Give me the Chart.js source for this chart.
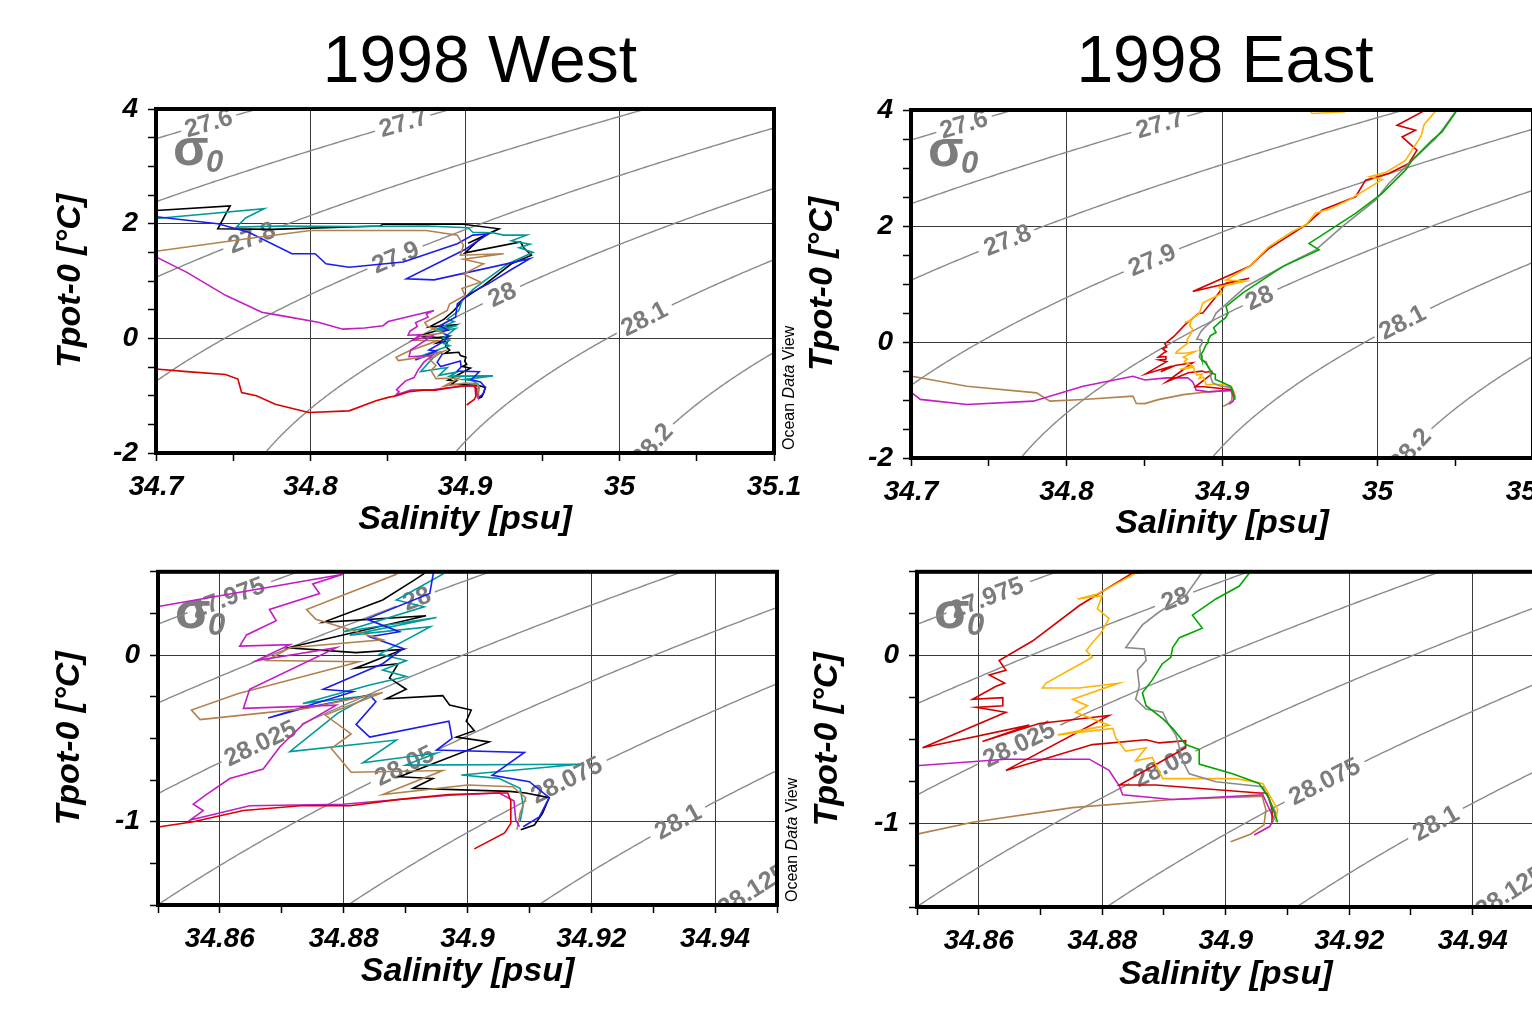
<!DOCTYPE html>
<html><head><meta charset="utf-8">
<script src="https://cdn.jsdelivr.net/npm/chart.js@4.4.1/dist/chart.umd.min.js"></script>
<style>
html,body{margin:0;padding:0;background:#fff;overflow:hidden;width:1532px;height:1035px;position:relative;}
canvas{position:absolute;}
.ttl{position:absolute;font-family:"Liberation Sans",Arial,sans-serif;font-size:66px;line-height:66px;text-align:center;width:600px;color:#000;white-space:nowrap;}
</style></head><body>
<div class="ttl" style="left:180px;top:26px">1998 West</div>
<div class="ttl" style="left:925px;top:26px">1998 East</div>
<canvas id="cTL" width="830" height="545" style="left:0;top:0"></canvas>
<canvas id="cTR" width="830" height="550" style="left:760px;top:0"></canvas>
<canvas id="cBL" width="800" height="490" style="left:0;top:545px"></canvas>
<canvas id="cBR" width="830" height="490" style="left:760px;top:545px"></canvas>
<script>
// ---------------- DATA (salinity [psu], potential temperature [°C]) ----------------
const W_BLACK = [[34.700,2.23],[34.748,2.31],[34.740,1.91],[34.775,1.90],[34.845,1.96],[34.847,1.99],[34.899,1.99],[34.922,1.91],[34.902,1.66],[34.911,1.77],[34.900,1.49],[34.936,1.68],[34.938,1.58],[34.943,1.45],[34.930,1.30],[34.912,0.92],[34.905,0.80],[34.899,0.69],[34.896,0.58],[34.8928,0.485],[34.8912,0.446],[34.8863,0.331],[34.8767,0.197],[34.8933,0.236],[34.8710,0.044],[34.8820,0.015],[34.8896,0.034],[34.8818,-0.080],[34.8888,-0.052],[34.8874,-0.138],[34.8901,-0.205],[34.8869,-0.262],[34.8960,-0.243],[34.8971,-0.300],[34.9006,-0.330],[34.8998,-0.397],[34.9011,-0.454],[34.8982,-0.492],[34.9035,-0.521],[34.8890,-0.730],[34.8944,-0.741],[34.8912,-0.800],[34.9068,-0.818],[34.9094,-0.828],[34.9132,-0.856],[34.9121,-0.952],[34.9108,-1.020],[34.9086,-1.048]];
const W_TEAL = [[34.700,2.09],[34.770,2.26],[34.758,2.10],[34.752,1.94],[34.780,1.96],[34.830,1.95],[34.875,1.96],[34.902,1.93],[34.905,1.85],[34.918,1.84],[34.925,1.80],[34.940,1.80],[34.930,1.70],[34.942,1.64],[34.935,1.58],[34.944,1.50],[34.928,1.30],[34.915,1.05],[34.905,0.85],[34.898,0.65],[34.896,0.485],[34.8885,0.331],[34.893,0.29],[34.8799,0.14],[34.895,0.226],[34.881,0.12],[34.894,0.17],[34.8858,0.006],[34.8901,-0.033],[34.8863,-0.09],[34.8901,-0.128],[34.8842,-0.18],[34.8734,-0.29],[34.8842,-0.243],[34.879,-0.35],[34.8713,-0.579],[34.8885,-0.51],[34.8831,-0.646],[34.895,-0.588],[34.890,-0.66],[34.9181,-0.655],[34.899,-0.72],[34.905,-0.74],[34.9085,-0.80],[34.909,-0.90],[34.9085,-1.00]];
const W_BLUE = [[34.700,2.12],[34.740,2.00],[34.760,1.85],[34.788,1.475],[34.803,1.475],[34.810,1.30],[34.825,1.24],[34.860,1.33],[34.895,1.65],[34.905,1.80],[34.915,1.82],[34.900,1.55],[34.862,1.04],[34.880,1.02],[34.942,1.39],[34.930,1.20],[34.915,0.95],[34.903,0.78],[34.895,0.60],[34.8939,0.37],[34.8837,0.216],[34.889,0.14],[34.8842,0.11],[34.8896,0.04],[34.8863,-0.052],[34.8767,-0.205],[34.8815,-0.22],[34.8678,-0.377],[34.8734,-0.32],[34.8842,-0.24],[34.8852,-0.28],[34.882,-0.416],[34.8842,-0.492],[34.897,-0.397],[34.8975,-0.50],[34.895,-0.57],[34.9092,-0.584],[34.904,-0.722],[34.910,-0.76],[34.9132,-0.856],[34.9116,-0.971],[34.909,-1.03]];
const W_BROWN = [[34.700,1.52],[34.760,1.74],[34.800,1.88],[34.875,1.88],[34.895,1.80],[34.899,1.62],[34.897,1.45],[34.925,1.475],[34.899,1.38],[34.912,1.30],[34.899,1.12],[34.910,0.98],[34.898,0.87],[34.900,0.75],[34.890,0.60],[34.8885,0.485],[34.874,0.274],[34.8755,0.215],[34.8863,0.092],[34.8713,0.044],[34.8675,-0.033],[34.8825,-0.04],[34.863,-0.23],[34.8554,-0.33],[34.8568,-0.387],[34.874,-0.32],[34.8863,-0.224],[34.877,-0.36],[34.8812,-0.473],[34.878,-0.56],[34.8812,-0.703],[34.896,-0.693],[34.8863,-0.837],[34.900,-0.78],[34.9073,-0.79],[34.9094,-0.856],[34.9085,-0.95],[34.908,-1.048]];
const W_MAGENTA = [[34.700,1.42],[34.720,1.15],[34.745,0.75],[34.7685,0.455],[34.780,0.40],[34.805,0.28],[34.821,0.16],[34.835,0.18],[34.847,0.22],[34.8503,0.293],[34.8799,0.485],[34.875,0.427],[34.8761,0.37],[34.868,0.274],[34.8691,0.207],[34.8643,0.121],[34.8632,0.054],[34.8713,0.063],[34.8659,-0.033],[34.8788,0.044],[34.8648,-0.205],[34.8638,-0.32],[34.8788,-0.30],[34.8734,-0.416],[34.8697,-0.55],[34.867,-0.684],[34.8616,-0.741],[34.8578,-0.837],[34.8557,-0.895],[34.8573,-0.933],[34.8552,-0.99],[34.8648,-0.904],[34.8799,-0.895],[34.8971,-0.841],[34.9051,-0.828],[34.9075,-0.875],[34.9078,-0.99],[34.9084,-1.03]];
const W_RED = [[34.700,-0.536],[34.720,-0.58],[34.745,-0.63],[34.753,-0.711],[34.7554,-0.945],[34.765,-1.0],[34.7772,-1.149],[34.7989,-1.294],[34.825,-1.265],[34.8424,-1.09],[34.8503,-1.03],[34.8557,-1.0],[34.8638,-0.933],[34.873,-0.904],[34.881,-0.904],[34.889,-0.866],[34.897,-0.837],[34.905,-0.828],[34.9065,-0.828],[34.907,-0.875],[34.907,-1.01],[34.906,-1.067],[34.9011,-1.163]];

const E_BROWN = [[34.7006,-0.59],[34.7359,-0.762],[34.7808,-0.877],[34.7893,-1.02],[34.8107,-0.991],[34.8427,-0.934],[34.8449,-1.06],[34.8504,-1.062],[34.859,-0.994],[34.8752,-0.907],[34.8914,-0.859],[34.9054,-0.84],[34.9059,-0.84],[34.9065,-0.92],[34.9062,-1.01],[34.904,-1.066],[34.9008,-1.11]];
const E_MAGENTA = [[34.7006,-0.877],[34.706,-0.99],[34.7359,-1.077],[34.7786,-1.02],[34.8107,-0.762],[34.8427,-0.59],[34.8504,-0.656],[34.8644,-0.618],[34.8779,-0.618],[34.8811,-0.685],[34.8828,-0.78],[34.8833,-0.83],[34.8914,-0.859],[34.906,-0.83],[34.9078,-0.975],[34.9071,-1.02],[34.9046,-1.07]];
const E_RED = [[35.032,4.30],[35.0286,3.966],[35.0126,3.736],[35.0244,3.65],[35.0158,3.536],[35.0254,3.307],[35.0201,3.077],[35.0073,2.905],[34.9923,2.791],[34.9859,2.504],[34.9645,2.275],[34.9538,2.017],[34.9303,1.616],[34.9175,1.30],[34.8812,0.871],[34.9175,1.10],[34.9026,1.014],[34.8962,0.785],[34.8876,0.499],[34.8849,0.492],[34.8763,0.299],[34.8687,0.087],[34.8633,-0.029],[34.8644,-0.087],[34.8617,-0.116],[34.8642,-0.164],[34.8628,-0.183],[34.859,-0.261],[34.8639,-0.251],[34.8639,-0.299],[34.8596,-0.309],[34.8644,-0.338],[34.8509,-0.55],[34.8682,-0.415],[34.8606,-0.512],[34.8698,-0.405],[34.8811,-0.357],[34.8644,-0.685],[34.8784,-0.531],[34.8871,-0.502],[34.8892,-0.521],[34.8935,-0.508],[34.8935,-0.55],[34.8828,-0.772],[34.8887,-0.772],[34.9054,-0.82],[34.9067,-0.82],[34.9075,-0.917],[34.9075,-0.994]];
const E_ORANGE = [[34.945,4.35],[34.958,3.94],[34.979,3.97],[34.992,4.35],[35.045,4.35],[35.037,3.97],[35.030,3.75],[35.028,3.55],[35.022,3.30],[35.018,3.13],[35.005,2.92],[34.995,2.85],[35.003,2.80],[34.9816,2.45],[34.970,2.30],[34.960,2.22],[34.954,2.02],[34.945,1.90],[34.930,1.64],[34.9175,1.30],[34.9026,1.07],[34.915,1.05],[34.898,0.95],[34.900,0.84],[34.8876,0.67],[34.8854,0.492],[34.8792,0.367],[34.876,0.338],[34.880,0.357],[34.8792,0.28],[34.8811,0.222],[34.8798,0.135],[34.8784,0.077],[34.8774,0.029],[34.8784,-0.01],[34.8709,-0.164],[34.8703,-0.193],[34.8763,-0.193],[34.8827,-0.164],[34.8752,-0.261],[34.8776,-0.299],[34.8757,-0.338],[34.8811,-0.415],[34.8728,-0.473],[34.8817,-0.434],[34.8822,-0.492],[34.8838,-0.57],[34.8871,-0.55],[34.8854,-0.627],[34.8881,-0.608],[34.8898,-0.734],[34.9016,-0.734],[34.906,-0.763],[34.9084,-0.917],[34.9081,-0.994]];
const E_GRAY = [[35.055,4.30],[35.050,3.966],[35.0415,3.65],[35.0372,3.507],[35.018,3.02],[35.0073,2.733],[34.9987,2.447],[34.9773,1.989],[34.9603,1.587],[34.9432,1.358],[34.9154,0.957],[34.8962,0.499],[34.8935,0.357],[34.8892,0.26],[34.8865,0.183],[34.8838,0.048],[34.8868,0.039],[34.8871,-0.029],[34.8857,-0.087],[34.886,-0.183],[34.8854,-0.261],[34.8871,-0.319],[34.8898,-0.338],[34.8908,-0.415],[34.8919,-0.473],[34.8925,-0.55],[34.893,-0.627],[34.8941,-0.705],[34.8984,-0.753],[34.906,-0.782],[34.9081,-0.936],[34.9076,-0.99]];
const E_GREEN = [[35.060,4.30],[35.0511,3.994],[35.0415,3.622],[35.035,3.478],[35.0222,3.135],[35.018,2.963],[35.003,2.562],[34.9859,2.218],[34.971,1.96],[34.956,1.70],[34.9624,1.587],[34.9389,1.30],[34.9132,0.842],[34.9026,0.613],[34.9038,0.492],[34.9022,0.415],[34.8984,0.338],[34.8946,0.241],[34.8962,0.164],[34.8925,0.107],[34.8914,0.048],[34.8911,-0.01],[34.8897,-0.05],[34.8881,-0.145],[34.8865,-0.222],[34.8871,-0.299],[34.8898,-0.376],[34.8914,-0.434],[34.8935,-0.531],[34.8957,-0.56],[34.8957,-0.647],[34.9011,-0.705],[34.9054,-0.763],[34.907,-0.85],[34.9084,-0.994]];

// isopycnal levels (sigma-0) and salinity where each contour label sits
const TOP_LEVELS = [27.6, 27.7, 27.8, 27.9, 28.0, 28.1, 28.2];
const TOP_LABEL_S = [34.734, 34.860, 34.762, 34.855, 34.924, 35.016, 35.021];
const BOT_LEVELS = [27.975, 28.0, 28.025, 28.05, 28.075, 28.1, 28.125];
const BOT_LABEL_S = [34.8613, 34.8918, 34.8665, 34.8898, 34.916, 34.934, 34.946];

// axis labels
const X_TITLE = 'Salinity [psu]';
const Y_TITLE = 'Tpot-0 [°C]';

// ---------------- helpers ----------------
const FONT = '"Liberation Sans", Arial, Helvetica, sans-serif';
const CONTOUR_COLOR = '#8a8a8a';
const LABEL_COLOR = '#7c7c7c';

function sigma0(S, T) { // UNESCO EOS-80 at p = 0
  const T2 = T*T, T3 = T2*T, T4 = T3*T, T5 = T4*T;
  const rw = 999.842594 + 6.793952e-2*T - 9.095290e-3*T2 + 1.001685e-4*T3 - 1.120083e-6*T4 + 6.536332e-9*T5;
  const A = 8.24493e-1 - 4.0899e-3*T + 7.6438e-5*T2 - 8.2467e-7*T3 + 5.3875e-9*T4;
  const B = -5.72466e-3 + 1.0227e-4*T - 1.6546e-6*T2;
  const C = 4.8314e-4;
  return rw + A*S + B*S*Math.sqrt(S) + C*S*S - 1000;
}
function isoS(level, T) {
  let S = 34.9;
  for (let i = 0; i < 40; i++) {
    const f = sigma0(S, T) - level;
    const d = (sigma0(S + 1e-4, T) - sigma0(S - 1e-4, T)) / 2e-4;
    S -= f / d;
    if (Math.abs(f) < 1e-10) break;
  }
  return S;
}
function contourPoints(level, tMin, tMax) {
  const pts = []; const n = 360;
  for (let i = 0; i <= n; i++) { const T = tMin + (tMax - tMin) * i / n; pts.push({x: isoS(level, T), y: T}); }
  return pts;
}
function tAtS(pts, S) {
  for (let i = 1; i < pts.length; i++) {
    const a = pts[i-1], b = pts[i];
    if ((a.x - S) * (b.x - S) <= 0) { const f = (S - a.x) / ((b.x - a.x) || 1e-12); return a.y + f * (b.y - a.y); }
  }
  return pts[0].y;
}
const LABEL_FONT = 'bold 25px ' + FONT;
const mctx = document.createElement('canvas').getContext('2d');
function fmtLevel(l) { return String(+l.toFixed(3)); }

const labelInfo = {}; // canvas id -> {datasetIndex: info}

function toXY(arr) { return arr.map(p => ({x: p[0], y: p[1]})); }

const WEST = [
  {d: W_BLACK, c: '#000000'}, {d: W_TEAL, c: '#009a9a'}, {d: W_BLUE, c: '#1c1cf2'},
  {d: W_BROWN, c: '#b3814c'}, {d: W_MAGENTA, c: '#c41cc4'}, {d: W_RED, c: '#dc0000'}
];
const EAST = [
  {d: E_BROWN, c: '#b3814c'}, {d: E_MAGENTA, c: '#c41cc4'}, {d: E_RED, c: '#d20000'},
  {d: E_ORANGE, c: '#ffb400'}, {d: E_GRAY, c: '#8a8a8a'}, {d: E_GREEN, c: '#00a600'}
];

const topX = v => { const r = Math.round(v*10); return Math.abs(v*10 - r) < 1e-6 ? String(r/10) : ''; };
const topY = v => { const r = Math.round(v); return (Math.abs(v - r) < 1e-6 && r % 2 === 0) ? String(r) : ''; };
const botX = v => { const r = Math.round(v*100); return (Math.abs(v*100 - r) < 1e-6 && r % 2 === 0) ? String(r/100) : ''; };
const botY = v => { const r = Math.round(v); return Math.abs(v - r) < 1e-6 ? String(r) : ''; };

const PANELS = [
  {id:'cTL', pad:{left:40,top:109,right:56,bottom:0}, yW:116, xH:92, xTP:4.6, yTP:10.6, x:[34.7,35.1,0.05], y:[-2,4,0.5], fx:topX, fy:topY, lv:TOP_LEVELS, ls:TOP_LABEL_S, series:WEST, odv:{x:790,y:450}},
  {id:'cTR', pad:{left:32,top:110,right:57,bottom:0}, yW:119, xH:92, xTP:5.6, yTP:10.6, x:[34.7,35.1,0.05], y:[-2,4,0.5], fx:topX, fy:topY, lv:TOP_LEVELS, ls:TOP_LABEL_S, series:EAST, odv:null},
  {id:'cBL', pad:{left:39,top:15,right:23,bottom:0}, yW:119, xH:130, xTP:42.6, yTP:10.6, x:[34.85,34.95,0.01], y:[-1.5,0.5,0.25], fx:botX, fy:botY, lv:BOT_LEVELS, ls:BOT_LABEL_S, series:WEST, odv:{x:793,y:357}},
  {id:'cBR', pad:{left:37,top:18,right:55.5,bottom:0}, yW:120, xH:128, xTP:39.6, yTP:10.6, x:[34.85,34.95,0.01], y:[-1.5,0.5,0.25], fx:botX, fy:botY, lv:BOT_LEVELS, ls:BOT_LABEL_S, series:EAST, odv:null}
];

const decoPlugin = {
  id: 'tsDeco',
  beforeDatasetsDraw(chart) {
    const ctx = chart.ctx, a = chart.chartArea, xs = chart.scales.x, ys = chart.scales.y;
    const infos = labelInfo[chart.canvas.id];
    ctx.save();
    ctx.beginPath(); ctx.rect(a.left, a.top, a.right - a.left, a.bottom - a.top); ctx.clip();
    ctx.fillStyle = LABEL_COLOR;
    ctx.font = LABEL_FONT; ctx.textAlign = 'center'; ctx.textBaseline = 'middle';
    Object.keys(infos).forEach(k => {
      const inf = infos[k];
      const cx = xs.getPixelForValue(inf.S), cy = ys.getPixelForValue(inf.T);
      const dS = (xs.max - xs.min) * 0.02;
      const x1 = xs.getPixelForValue(inf.S - dS), y1 = ys.getPixelForValue(tAtS(inf.pts, inf.S - dS));
      const x2 = xs.getPixelForValue(inf.S + dS), y2 = ys.getPixelForValue(tAtS(inf.pts, inf.S + dS));
      const ang = Math.atan2(y2 - y1, x2 - x1);
      ctx.save(); ctx.translate(cx, cy); ctx.rotate(ang); ctx.fillText(inf.text, 0, 1); ctx.restore();
    });
    // sigma-0 symbol
    ctx.textAlign = 'left'; ctx.textBaseline = 'alphabetic';
    ctx.font = 'bold 52px ' + FONT;
    ctx.fillText('σ', a.left + 17, a.top + 56);
    ctx.font = 'italic bold 31px ' + FONT;
    ctx.fillText('0', a.left + 50, a.top + 63);
    ctx.restore();
  },
  afterDraw(chart) {
    const ctx = chart.ctx, a = chart.chartArea;
    ctx.save();
    ctx.strokeStyle = '#000'; ctx.lineWidth = 4;
    ctx.strokeRect(a.left, a.top, a.right - a.left, a.bottom - a.top);
    const odv = chart.$odv;
    if (odv) {
      ctx.translate(odv.x, odv.y); ctx.rotate(-Math.PI/2);
      ctx.fillStyle = '#000'; ctx.textBaseline = 'middle'; ctx.textAlign = 'left';
      let x = 0;
      const parts = [['Ocean ', '16px '], ['Data', 'italic 16px '], [' View', '16px ']];
      parts.forEach(p => { ctx.font = p[1] + FONT; ctx.fillText(p[0], x, 0); x += ctx.measureText(p[0]).width; });
    }
    ctx.restore();
  }
};

PANELS.forEach(P => {
  const datasets = [];
  const n = P.series.length;
  P.series.forEach((s, i) => {
    datasets.push({ data: toXY(s.d), borderColor: s.c, borderWidth: 1.6, pointRadius: 0, tension: 0, fill: false, order: n - i });
  });
  const infos = {};
  const yr = P.y[1] - P.y[0];
  P.lv.forEach((lev, j) => {
    const pts = contourPoints(lev, P.y[0] - 0.2 * yr, P.y[1] + 0.2 * yr);
    const text = fmtLevel(lev);
    mctx.font = LABEL_FONT;
    const w = mctx.measureText(text).width;
    const S = P.ls[j];
    infos[datasets.length] = {text, S, T: tAtS(pts, S), gap: w / 2 + 6, pts};
    datasets.push({
      data: pts, borderColor: CONTOUR_COLOR, borderWidth: 1.4, pointRadius: 0, tension: 0, fill: false, order: 100,
      segment: { borderColor: c => {
        const inf = labelInfo[c.chart.canvas.id][c.datasetIndex];
        if (!inf) return undefined;
        const xs = c.chart.scales.x, ys = c.chart.scales.y;
        const cx = xs.getPixelForValue(inf.S), cy = ys.getPixelForValue(inf.T);
        const mx = (c.p0.x + c.p1.x) / 2, my = (c.p0.y + c.p1.y) / 2;
        return Math.hypot(mx - cx, my - cy) < inf.gap ? 'rgba(0,0,0,0)' : undefined;
      } }
    });
  });
  labelInfo[P.id] = infos;
  const tickFont = {family: FONT, size: 28, weight: 'bold', style: 'italic'};
  const titleFont = {family: FONT, size: 34, weight: 'bold', style: 'italic'};
  const gridOpts = f => ({
    color: c => (c.tick && f(c.tick.value) !== '') ? '#383838' : 'rgba(0,0,0,0)',
    tickColor: '#000', lineWidth: 1, tickWidth: 1.5, tickLength: 8, drawTicks: true, drawOnChartArea: true
  });
  const chart = new Chart(document.getElementById(P.id), {
    type: 'line',
    data: { datasets },
    options: {
      responsive: false, animation: false, devicePixelRatio: 1, events: [],
      layout: { padding: P.pad },
      plugins: { legend: {display: false}, tooltip: {enabled: false}, title: {display: false} },
      scales: {
        x: {
          type: 'linear', position: 'bottom', min: P.x[0], max: P.x[1],
          ticks: { stepSize: P.x[2], autoSkip: false, maxRotation: 0, minRotation: 0, padding: 9, color: '#000', font: tickFont, callback: v => P.fx(v) },
          grid: gridOpts(P.fx), border: {display: false},
          title: { display: true, text: X_TITLE, color: '#000', font: titleFont, padding: {top: 0, bottom: P.xTP} },
          afterFit: s => { s.height = P.xH; }
        },
        y: {
          type: 'linear', position: 'left', min: P.y[0], max: P.y[1],
          ticks: { stepSize: P.y[2], autoSkip: false, padding: 10, color: '#000', font: tickFont, callback: v => P.fy(v) },
          grid: gridOpts(P.fy), border: {display: false},
          title: { display: true, text: Y_TITLE, color: '#000', font: titleFont, padding: {top: P.yTP, bottom: 0} },
          afterFit: s => { s.width = P.yW; }
        }
      }
    },
    plugins: [decoPlugin]
  });
  chart.$odv = P.odv;
  if (P.odv) chart.draw();
});
</script>
</body></html>
